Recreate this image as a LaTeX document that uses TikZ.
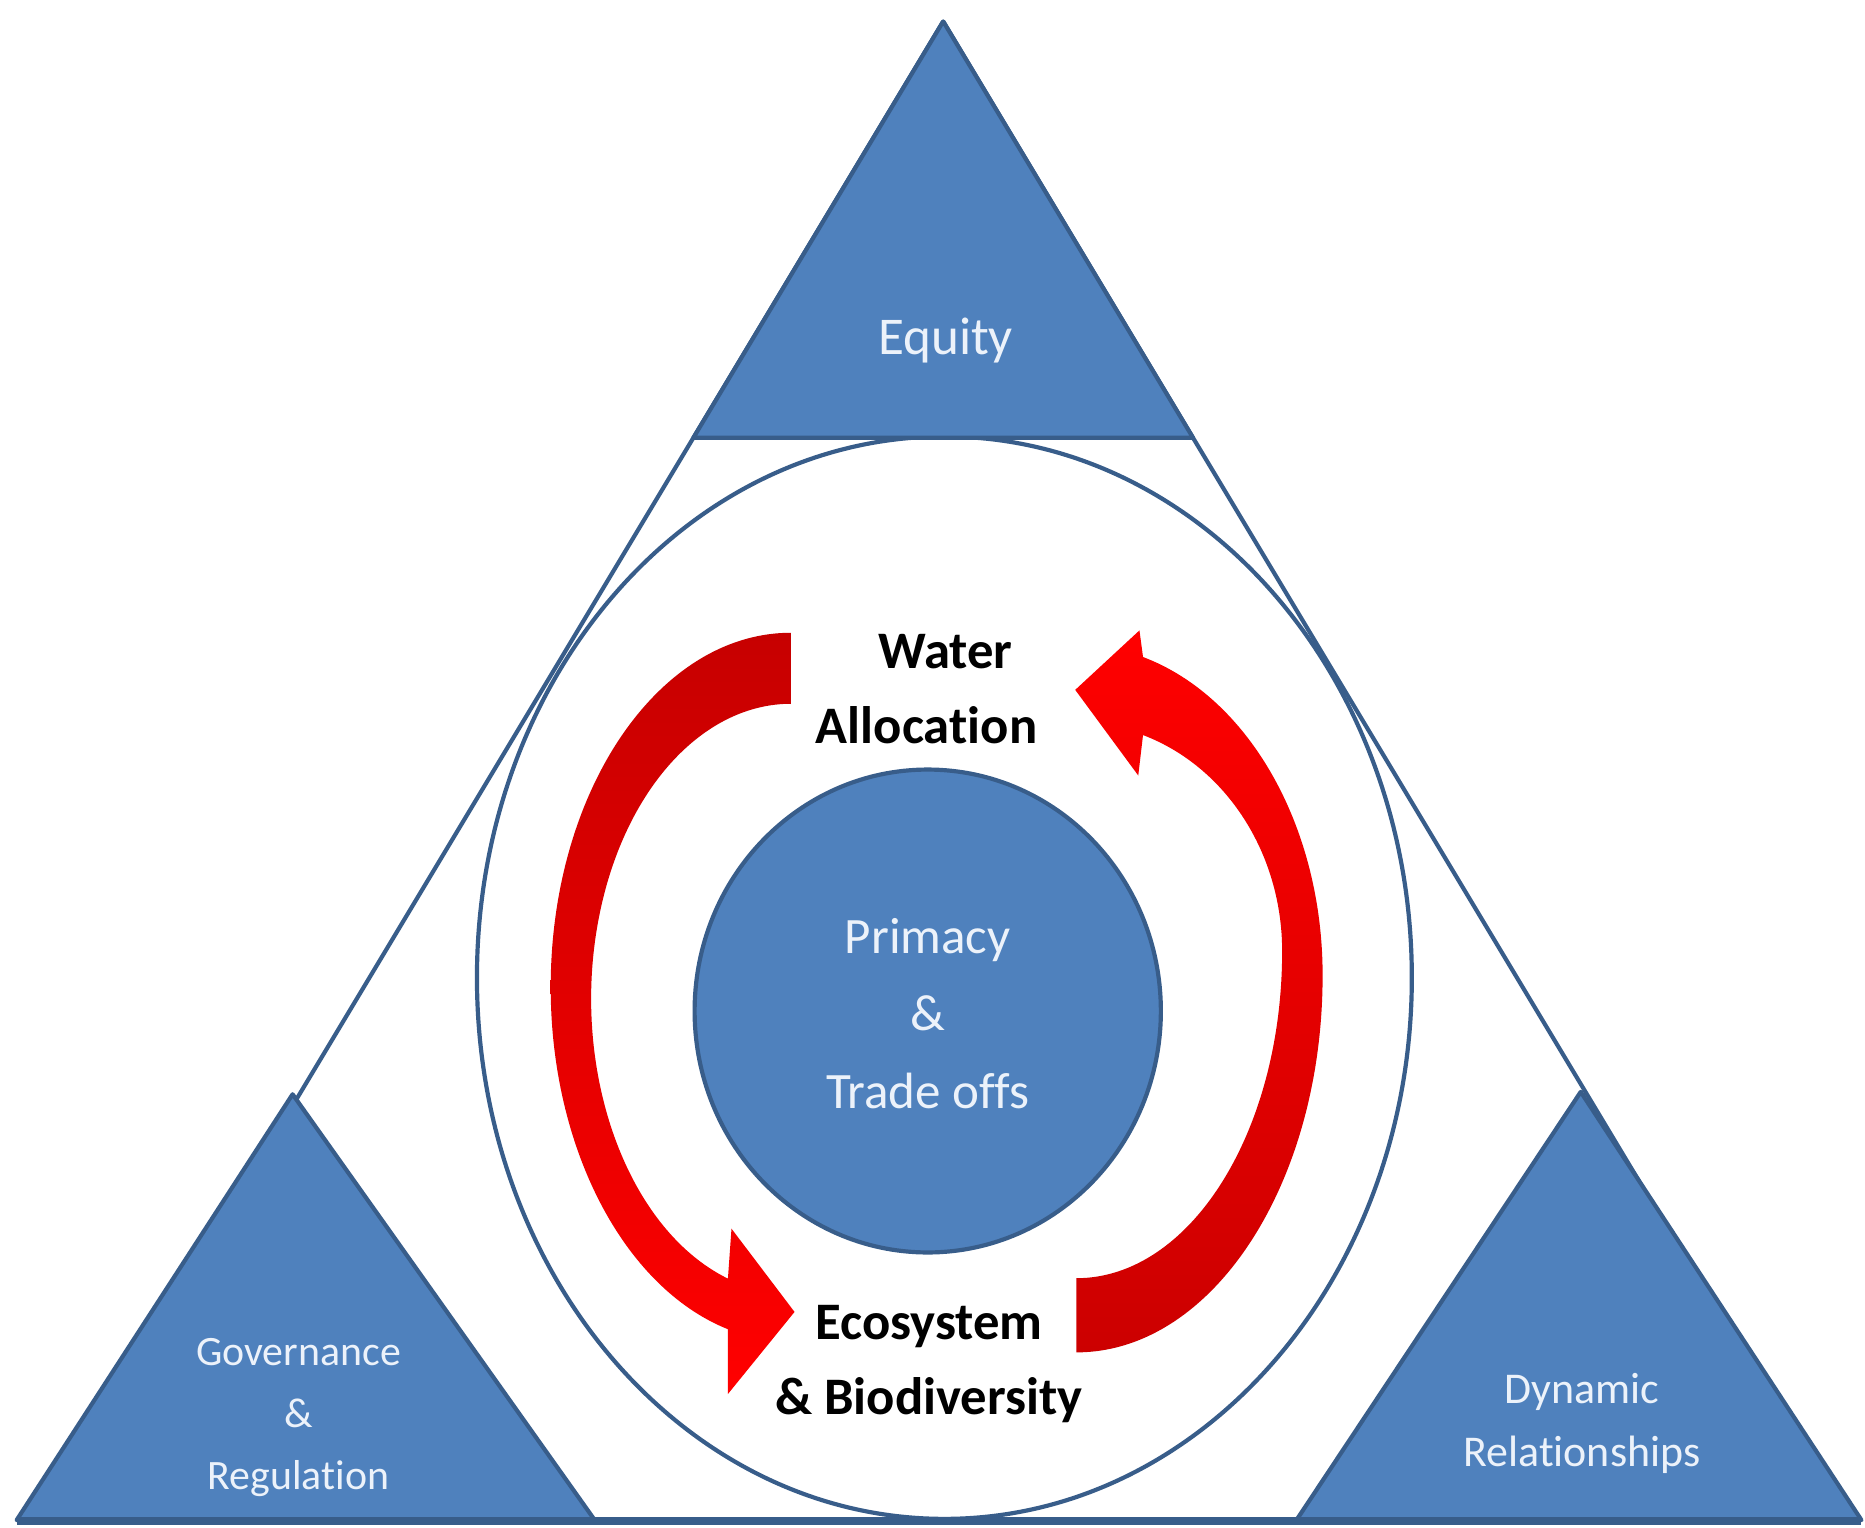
\documentclass[tikz,border=0pt]{standalone}
\usepackage{fontspec}
\setmainfont{Carlito}[Ligatures=NoCommon]
\definecolor{boxblue}{RGB}{79,129,189}
\definecolor{edgeblue}{RGB}{56,93,138}
\definecolor{paletext}{RGB}{236,242,250}

\begin{document}
\begin{tikzpicture}[x=0.01cm,y=-0.01cm,
    corner/.style={fill=boxblue,draw=edgeblue,line width=1pt,line join=round},
    ring/.style={draw=edgeblue,line width=1pt},
    pale/.style={text=paletext,align=center},
    dark/.style={text=black,align=center,font=\bfseries\fontsize{12.6}{17.9}\selectfont}]
  \useasboundingbox (0,0) rectangle (1568,1284);
  \fill[white] (0,0) rectangle (1568,1284);
  % Frame
  \draw[ring] (793,18) -- (37,1278) (793,18) -- (1549,1278);
  \draw[ring] (794,822) ellipse (393 and 455);
  % Corners
  \draw[corner] (793,18) -- (1003,368) -- (583,368) -- cycle;
  \draw[corner] (246,920) -- (500,1278) -- (14,1278) -- cycle;
  \draw[corner] (1329,918) -- (1565,1278) -- (1090,1278) -- cycle;
  \draw[edgeblue,line width=2pt] (14,1279) -- (1565,1279);
  % Hub
  \draw[corner] (780,850) ellipse (196 and 203);
  % Arrows
  \shade[top color=red!78!black, middle color=red, bottom color=red]
    (665,592) -- (665,532)
    arc[start angle=-90, end angle=-254.8, x radius=202, y radius=298]
    -- (612,1172) -- (668,1103) -- (615,1033) -- (612,1075)
    arc[start angle=-251.6, end angle=-90, x radius=168, y radius=248]
    -- cycle;
  \shade[top color=red, middle color=red, bottom color=red!80!black]
    (905,1075) -- (905,1137)
    arc[start angle=90, end angle=0, x radius=207, y radius=317]
    arc[start angle=0, end angle=-74.3, x radius=207, y radius=278]
    -- (958,530) -- (904,580) -- (957,652) -- (961,618)
    arc[start angle=-71.1, end angle=0, x radius=173, y radius=192]
    arc[start angle=0, end angle=90, x radius=173, y radius=275]
    -- cycle;
  % Labels
  \node[pale,font=\fontsize{12.7}{15}\selectfont,anchor=base] (equity) at (795,298) {Equity};
  \node[pale,font=\fontsize{12.2}{18.5}\selectfont] (primacy) at (780,852) {Primacy\\\&\\Trade offs};
  \node[pale,font=\fontsize{10}{14.8}\selectfont] (governance) at (251,1192) {Governance\\\&\\Regulation};
  \node[pale,font=\fontsize{10.5}{15}\selectfont] (dynamic) at (1330,1197) {Dynamic\\Relationships};
  \node[dark] (water) at (779,579) {\hspace*{9pt}Water\\Allocation};
  \node[dark] (ecosystem) at (781,1147) {Ecosystem\\\&\ Biodiversity};
\end{tikzpicture}
\end{document}
